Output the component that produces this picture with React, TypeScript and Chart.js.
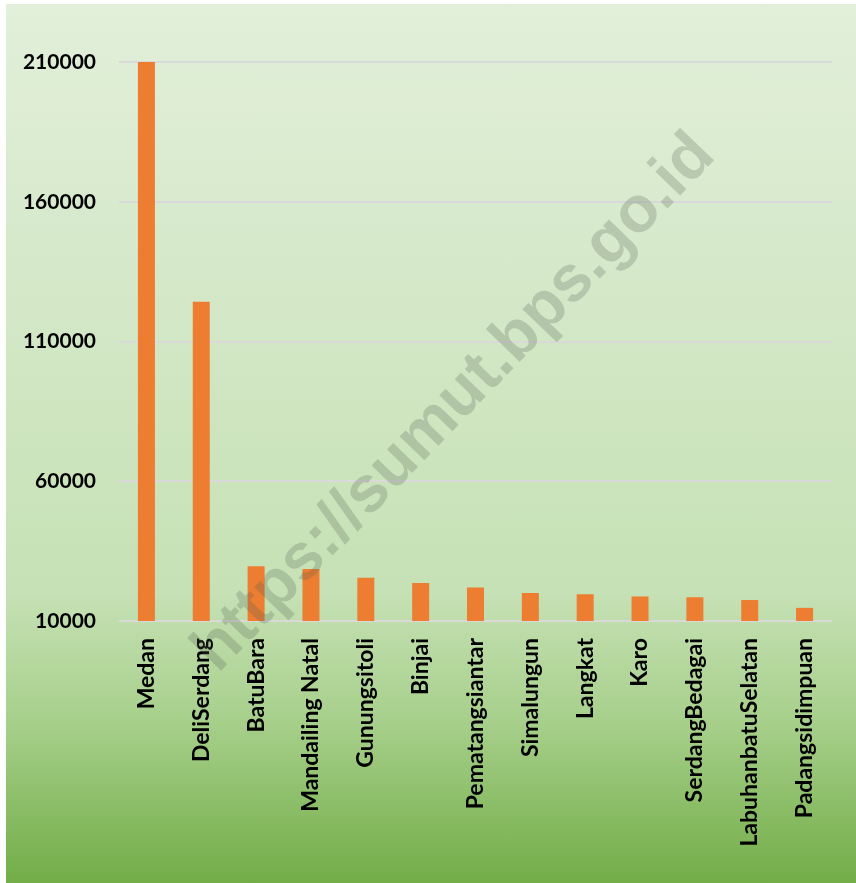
import React, { useEffect, useRef } from "react";
import { Chart, registerables } from "chart.js";

Chart.register(...registerables);

const categories = [
  "Medan",
  "DeliSerdang",
  "BatuBara",
  "Mandailing Natal",
  "Gunungsitoli",
  "Binjai",
  "Pematangsiantar",
  "Simalungun",
  "Langkat",
  "Karo",
  "SerdangBedagai",
  "LabuhanbatuSelatan",
  "Padangsidimpuan",
];

const values = [
  210000, 124200, 29600, 28600, 25500, 23600, 22000, 20000, 19600, 18800, 18500, 17500, 14700,
];

const yMin = 10000;
const yMax = 210000;
const yStep = 50000;

const watermarkText = "https://sumut.bps.go.id";

const watermarkPlugin = {
  id: "watermark",
  afterDraw(chart: any) {
    const ctx = chart.ctx;
    ctx.save();
    ctx.translate(212, 670);
    ctx.rotate((-46 * Math.PI) / 180);
    ctx.font = "bold 65px 'Liberation Sans', Arial, sans-serif";
    ctx.fillStyle = "rgba(80, 92, 80, 0.24)";
    ctx.textAlign = "left";
    ctx.textBaseline = "alphabetic";
    ctx.fillText(watermarkText, 0, 0);
    ctx.restore();
  },
};

export default function App() {
  const canvasRef = useRef<HTMLCanvasElement | null>(null);

  useEffect(() => {
    if (!canvasRef.current) return;
    const chart = new Chart(canvasRef.current, {
      type: "bar",
      data: {
        labels: categories,
        datasets: [
          {
            data: values,
            backgroundColor: "#ED7D31",
            barPercentage: 0.31,
            categoryPercentage: 1,
          },
        ],
      },
      options: {
        animation: false,
        responsive: false,
        maintainAspectRatio: false,
        layout: { padding: { top: 58, right: 24, left: 0, bottom: 0 } },
        plugins: {
          legend: { display: false },
          tooltip: { enabled: false },
        },
        scales: {
          x: {
            grid: { display: false },
            border: { display: false },
            ticks: {
              autoSkip: false,
              maxRotation: 90,
              minRotation: 90,
              padding: 9,
              color: "#000000",
              font: { family: "Lato, 'Open Sans', sans-serif", size: 23, weight: "bold" },
            },
            afterFit(scale: any) {
              scale.height = 262;
            },
          },
          y: {
            min: yMin,
            max: yMax,
            grid: { color: "#d9d9d9", lineWidth: 2, drawTicks: false },
            border: { display: false },
            ticks: {
              stepSize: yStep,
              padding: 23,
              color: "#000000",
              font: { family: "Lato, 'Open Sans', sans-serif", size: 21, weight: "bold" },
              callback: (v: any) => String(v),
            },
            afterFit(scale: any) {
              scale.width = 113;
            },
          },
        },
      },
      plugins: [watermarkPlugin],
    });
    return () => chart.destroy();
  }, []);

  return (
    <div
      style={{
        position: "absolute",
        left: 6,
        top: 4,
        width: 850,
        height: 879,
        background:
          "linear-gradient(to bottom, #e2efda 0%, #c6e1b5 67%, #a6cf8a 82%, #72ad47 100%)",
      }}
    >
      <canvas ref={canvasRef} width={850} height={879} style={{ display: "block" }} />
    </div>
  );
}
